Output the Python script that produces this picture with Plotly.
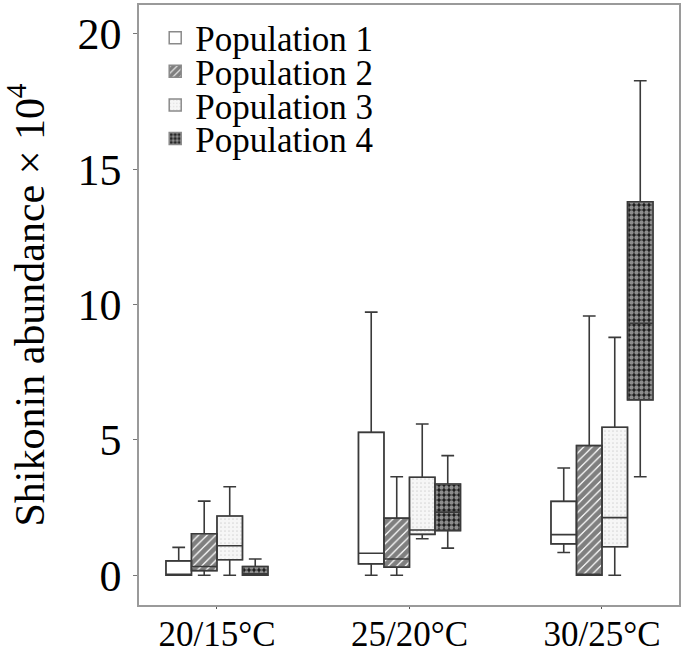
import plotly.graph_objects as go

categories = ["20/15°C", "25/20°C", "30/25°C"]
populations = ["Population 1", "Population 2", "Population 3", "Population 4"]

# box statistics per population, one value per temperature category
lower = {
    "Population 1": [0.0, 0.0, 0.84],
    "Population 2": [0.0, 0.0, 0.0],
    "Population 3": [0.0, 1.35, 0.0],
    "Population 4": [0.0, 1.0, 3.64],
}
q1 = {
    "Population 1": [0.0, 0.42, 1.16],
    "Population 2": [0.17, 0.30, 0.0],
    "Population 3": [0.57, 1.51, 1.05],
    "Population 4": [0.0, 1.65, 6.48],
}
median = {
    "Population 1": [0.02, 0.81, 1.50],
    "Population 2": [0.32, 0.60, 0.02],
    "Population 3": [1.09, 1.67, 2.13],
    "Population 4": [0.05, 2.33, 9.31],
}
q3 = {
    "Population 1": [0.53, 5.28, 2.73],
    "Population 2": [1.53, 2.11, 4.79],
    "Population 3": [2.19, 3.62, 5.47],
    "Population 4": [0.32, 3.37, 13.80],
}
upper = {
    "Population 1": [1.03, 9.72, 3.96],
    "Population 2": [2.74, 3.64, 9.58],
    "Population 3": [3.27, 5.59, 8.79],
    "Population 4": [0.60, 4.42, 18.27],
}

y_ticks = [0, 5, 10, 15, 20]

patterns = {
    "Population 1": dict(shape="", bgcolor="white", fgcolor="white"),
    "Population 2": dict(shape="/", bgcolor="white", fgcolor="black", size=6, solidity=0.8),
    "Population 3": dict(shape=".", bgcolor="#f6f6f6", fgcolor="#b8b8b8", size=4, solidity=0.15),
    "Population 4": dict(shape=".", bgcolor="#1a1a1a", fgcolor="white", size=5, solidity=0.6),
}
legend_names = ["legend", "legend2", "legend3", "legend4"]
legend_y = [0.945, 0.889, 0.833, 0.777]

FONT = "Liberation Serif"
OUTLINE = "#8a8a8a"

fig = go.Figure()
for i, p in enumerate(populations):
    heights = [b - a for a, b in zip(q1[p], q3[p])]
    pat = patterns[p]
    fig.add_trace(go.Bar(
        x=categories, y=heights, base=q1[p], name=p,
        marker=dict(color=pat["bgcolor"], line=dict(color=OUTLINE, width=1.5), pattern=pat),
        legend=legend_names[i], hoverinfo="skip",
    ))
for p in populations:
    fig.add_trace(go.Box(
        x=categories, q1=q1[p], median=median[p], q3=q3[p],
        lowerfence=lower[p], upperfence=upper[p], name=p,
        fillcolor="rgba(0,0,0,0)", line=dict(color="#3a3a3a", width=1.6),
        whiskerwidth=0.5, showlegend=False, boxpoints=False,
    ))

layout_legends = {}
for name, ly in zip(legend_names, legend_y):
    layout_legends[name] = dict(
        x=0.03, xanchor="left", y=ly, yanchor="middle",
        bgcolor="rgba(0,0,0,0)", font=dict(family=FONT, size=35, color="black"),
        itemwidth=30,
    )

fig.update_layout(
    width=685, height=656,
    margin=dict(l=139, r=6, t=5, b=51),
    paper_bgcolor="white", plot_bgcolor="white",
    barmode="group", bargap=0.47, bargroupgap=0,
    boxmode="group", boxgap=0.47, boxgroupgap=0,
    font=dict(family=FONT, color="black"),
    **layout_legends,
)
fig.update_xaxes(
    type="category", range=[-0.405, 2.4], automargin=False,
    showline=True, linecolor="#9a9a9a", linewidth=1.5, mirror=True,
    showgrid=False, ticks="outside", ticklen=2, tickcolor="#555",
    ticklabelstandoff=-5,
    tickfont=dict(family=FONT, size=35, color="black"),
)
fig.update_yaxes(
    range=[-1.1, 21.07], tickvals=y_ticks, automargin=False,
    showline=True, linecolor="#9a9a9a", linewidth=1.5, mirror=True,
    showgrid=False, zeroline=False, ticks="outside", ticklen=4, tickcolor="#777",
    ticklabelstandoff=3,
    tickfont=dict(family=FONT, size=44, color="black"),
    title=dict(text="Shikonin abundance × 10<sup>4</sup>", font=dict(family=FONT, size=42, color="black"), standoff=34),
)
fig.write_html("out.html", config={"displayModeBar": False},
               post_script="document.body.style.margin='0px';")
